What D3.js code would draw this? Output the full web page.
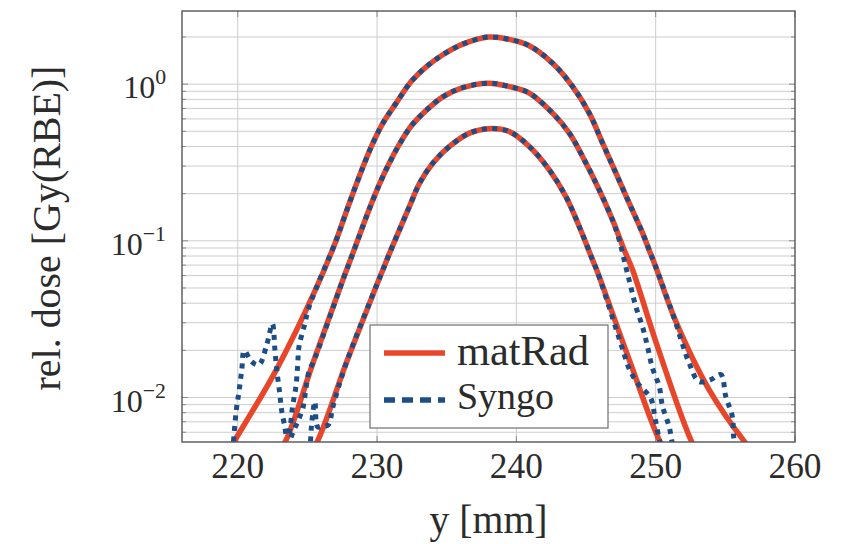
<!DOCTYPE html>
<html>
<head>
<meta charset="utf-8">
<script src="https://cdn.jsdelivr.net/npm/d3@7"></script>
<style>
  html, body { margin: 0; padding: 0; background: #ffffff; }
  svg { display: block; }
</style>
</head>
<body>
<svg id="chart" width="843" height="544" font-family="'Liberation Serif', 'DejaVu Serif', 'Noto Serif', serif"></svg>
<script>
// ---------------- data ----------------
const xTicks = [220, 230, 240, 250, 260];
const yTickExps = [-2, -1, 0];
const xLabel = "y [mm]";
const yLabel = "rel. dose [Gy(RBE)]";
const seriesNames = ["matRad", "Syngo"];

// matRad – high / mid / low profile
const matRadHighX = [219.3, 219.66, 222.77, 225.64, 227.07, 227.67, 228.27, 229.0, 229.7, 230.42, 231.37, 232.45, 233.53, 234.72, 236.15, 238.0, 239.5, 240.93, 242.6, 244.04, 245.23, 246.19, 247.15, 248.1, 249.06, 249.53, 250.0, 251.4, 253.84, 256.47, 257.0];
const matRadHighY = [0.0045, 0.0051, 0.0150, 0.050, 0.101, 0.143, 0.201, 0.298, 0.42, 0.564, 0.757, 1.04, 1.29, 1.54, 1.80, 2.0, 1.93, 1.76, 1.36, 0.965, 0.653, 0.42, 0.27, 0.174, 0.112, 0.0875, 0.0684, 0.0313, 0.0112, 0.0051, 0.0045];

const matRadMidX = [222.9, 223.49, 225.4, 227.55, 228.27, 228.98, 229.46, 230.18, 230.9, 231.61, 232.45, 233.53, 234.72, 236.15, 238.0, 239.5, 240.93, 242.6, 243.8, 245.0, 245.95, 246.9, 247.74, 248.34, 250.13, 252.64, 253.2];
const matRadMidY = [0.0045, 0.0054, 0.0166, 0.0564, 0.0835, 0.124, 0.161, 0.231, 0.316, 0.414, 0.540, 0.68, 0.83, 0.95, 1.015, 0.965, 0.877, 0.653, 0.487, 0.313, 0.211, 0.136, 0.0875, 0.0653, 0.0211, 0.0051, 0.0043];

const matRadLowX = [225.1, 225.64, 227.79, 229.94, 230.42, 230.9, 231.61, 232.33, 233.05, 234.0, 235.2, 236.63, 238.0, 239.5, 240.93, 242.36, 243.55, 244.52, 245.47, 245.83, 248.1, 250.37, 250.9];
const matRadLowY = [0.0045, 0.0051, 0.0166, 0.0513, 0.0653, 0.0835, 0.1175, 0.166, 0.233, 0.313, 0.40, 0.487, 0.52, 0.498, 0.40, 0.284, 0.192, 0.123, 0.0756, 0.063, 0.0174, 0.0051, 0.0044];

// Syngo – high / mid / low profile
const syngoHighX = [219.6, 219.69, 219.88, 220.09, 220.29, 220.47, 221.0, 221.53, 222.08, 222.49, 222.67, 222.8, 223.0, 223.15, 223.37, 223.51, 223.7, 223.94, 224.18, 224.3, 224.4, 224.8, 225.04, 225.64, 227.07, 227.67, 228.27, 229.0, 229.7, 230.42, 231.37, 232.45, 233.53, 234.72, 236.15, 238.0, 239.5, 240.93, 242.6, 244.04, 245.23, 246.19, 247.15, 248.1, 249.06, 249.53, 250.0, 251.45, 251.9, 252.4, 253.1, 253.96, 254.68, 255.03, 255.5, 255.6, 255.8];
const syngoHighY = [0.0045, 0.0052, 0.0081, 0.0109, 0.0150, 0.0199, 0.0169, 0.0162, 0.0217, 0.0295, 0.0201, 0.0150, 0.0109, 0.0083, 0.0066, 0.0057, 0.0061, 0.0088, 0.0118, 0.0159, 0.0212, 0.0292, 0.036, 0.050, 0.101, 0.143, 0.201, 0.298, 0.42, 0.564, 0.757, 1.04, 1.29, 1.54, 1.80, 2.0, 1.93, 1.76, 1.36, 0.965, 0.653, 0.42, 0.27, 0.174, 0.112, 0.0875, 0.0684, 0.0298, 0.0222, 0.0166, 0.01265, 0.0130, 0.0140, 0.01015, 0.00757, 0.0056, 0.0045];

const syngoMidX = [223.6, 223.9, 224.3, 224.68, 224.9, 225.14, 225.4, 227.55, 228.27, 228.98, 229.46, 230.18, 230.9, 231.61, 232.45, 233.53, 234.72, 236.15, 238.0, 239.5, 240.93, 242.6, 243.8, 245.0, 245.95, 246.9, 247.4, 247.85, 248.21, 248.57, 249.05, 249.41, 249.77, 250.25, 250.49, 250.97, 251.18, 251.4];
const syngoMidY = [0.0048, 0.0058, 0.0070, 0.0086, 0.0115, 0.0150, 0.0166, 0.0564, 0.0835, 0.124, 0.161, 0.231, 0.316, 0.414, 0.540, 0.68, 0.83, 0.95, 1.015, 0.965, 0.877, 0.653, 0.487, 0.313, 0.211, 0.136, 0.100, 0.0686, 0.0511, 0.0381, 0.0284, 0.0212, 0.0154, 0.0118, 0.0088, 0.0065, 0.0052, 0.0045];

const syngoLowX = [225.2, 225.3, 225.54, 225.73, 226.02, 226.5, 226.84, 227.79, 229.94, 230.42, 230.9, 231.61, 232.33, 233.05, 234.0, 235.2, 236.63, 238.0, 239.5, 240.93, 242.36, 243.55, 244.52, 245.47, 245.83, 247.6, 248.08, 248.68, 249.64, 249.95, 250.24, 250.5];
const syngoLowY = [0.0045, 0.0067, 0.0094, 0.0065, 0.0065, 0.0067, 0.0088, 0.0166, 0.0513, 0.0653, 0.0835, 0.1175, 0.166, 0.233, 0.313, 0.40, 0.487, 0.52, 0.498, 0.40, 0.284, 0.192, 0.123, 0.0756, 0.063, 0.0207, 0.0154, 0.0124, 0.0099, 0.0074, 0.0055, 0.0045];

// ---------------- chart ----------------
const svg = d3.select("#chart");
const L = 182, T = 11, R = 795, B = 442;
const x = d3.scaleLinear().domain([216, 260]).range([L, R]);
const y = d3.scaleLog().domain([0.0052, 2.93]).range([B, T]);

const redCol = "#e8462a";
const blueCol = "#1b4d87";
const textCol = "#2b2b2b";

// scale a text node's font size so its width matches a target width
function fit(sel, target) {
  const node = sel.node();
  const fs = parseFloat(sel.attr("font-size"));
  const w = node.getComputedTextLength();
  if (w > 0) sel.attr("font-size", (fs * target / w).toFixed(2));
  return sel;
}

svg.append("defs").append("clipPath").attr("id", "plotclip")
  .append("rect").attr("x", L).attr("y", T).attr("width", R - L).attr("height", B - T);

// grid
const grid = svg.append("g");
const yGridVals = [];
for (let k = -3; k <= 0; k++) {
  for (let m = 1; m <= 9; m++) {
    const v = m * Math.pow(10, k);
    if (v > y.domain()[0] && v < y.domain()[1]) yGridVals.push(v);
  }
}
grid.selectAll("line.hg").data(yGridVals).join("line")
  .attr("x1", L).attr("x2", R)
  .attr("y1", d => y(d)).attr("y2", d => y(d))
  .attr("stroke", "#cdcdcd").attr("stroke-width", 1);
grid.selectAll("line.vg").data(xTicks.filter(t => t < 260)).join("line")
  .attr("x1", d => x(d)).attr("x2", d => x(d))
  .attr("y1", T).attr("y2", B)
  .attr("stroke", "#cdcdcd").attr("stroke-width", 1);

// small tick marks inside the frame
const ticks = svg.append("g").attr("stroke", "#8a8a8a").attr("stroke-width", 1);
yGridVals.forEach(v => {
  const major = Math.abs(Math.log10(v) - Math.round(Math.log10(v))) < 1e-9;
  const len = major ? 6 : 4;
  ticks.append("line").attr("x1", L).attr("x2", L + len).attr("y1", y(v)).attr("y2", y(v));
  ticks.append("line").attr("x1", R - len).attr("x2", R).attr("y1", y(v)).attr("y2", y(v));
});
xTicks.forEach(t => {
  ticks.append("line").attr("x1", x(t)).attr("x2", x(t)).attr("y1", B).attr("y2", B - 6);
  ticks.append("line").attr("x1", x(t)).attr("x2", x(t)).attr("y1", T).attr("y2", T + 6);
});

// curves
const line = d3.line().x(d => x(d[0])).y(d => y(d[1])).curve(d3.curveCatmullRom.alpha(0.5));
const zip = (a, b) => a.map((v, i) => [v, b[i]]);
const plot = svg.append("g").attr("clip-path", "url(#plotclip)");

[[matRadHighX, matRadHighY], [matRadMidX, matRadMidY], [matRadLowX, matRadLowY]].forEach(([xs, ys]) => {
  plot.append("path").attr("d", line(zip(xs, ys)))
    .attr("fill", "none").attr("stroke", redCol).attr("stroke-width", 5.5);
});
[[syngoHighX, syngoHighY], [syngoMidX, syngoMidY], [syngoLowX, syngoLowY]].forEach(([xs, ys]) => {
  plot.append("path").attr("d", line(zip(xs, ys)))
    .attr("fill", "none").attr("stroke", blueCol).attr("stroke-width", 5)
    .attr("stroke-dasharray", "5,5.5");
});

// frame
svg.append("rect").attr("x", L).attr("y", T).attr("width", R - L).attr("height", B - T)
  .attr("fill", "none").attr("stroke", "#555555").attr("stroke-width", 1.4);

// x tick labels
svg.append("g").selectAll("text").data(xTicks).join("text")
  .attr("x", d => x(d)).attr("y", 478)
  .attr("text-anchor", "middle").attr("font-size", 35).attr("fill", textCol)
  .text(d => d)
  .each(function () { fit(d3.select(this), 53); });

// y tick labels
yTickExps.forEach(e => {
  const t = svg.append("text").attr("x", 166).attr("y", y(Math.pow(10, e)) + 14)
    .attr("text-anchor", "end").attr("font-size", 35).attr("fill", textCol);
  const base = t.append("tspan").text("10");
  const w = base.node().getComputedTextLength();
  const fs = 35 * 32 / (w || 32);
  t.attr("font-size", fs.toFixed(2));
  t.append("tspan").attr("dy", -14).attr("font-size", (fs * 0.68).toFixed(2))
    .text(e === 0 ? "0" : "\u2212" + Math.abs(e));
});

// axis labels
fit(svg.append("text").attr("x", (L + R) / 2).attr("y", 533)
  .attr("text-anchor", "middle").attr("font-size", 36).attr("fill", textCol)
  .text(xLabel), 118);
fit(svg.append("text").attr("transform", `translate(60,228) rotate(-90)`)
  .attr("text-anchor", "middle").attr("font-size", 36).attr("fill", textCol)
  .text(yLabel), 325);

// legend
const lg = svg.append("g");
lg.append("rect").attr("x", 370).attr("y", 325).attr("width", 238).attr("height", 103)
  .attr("fill", "#ffffff").attr("stroke", "#6e6e6e").attr("stroke-width", 1.2);
lg.append("line").attr("x1", 384).attr("x2", 445).attr("y1", 353).attr("y2", 353)
  .attr("stroke", redCol).attr("stroke-width", 5.5);
lg.append("line").attr("x1", 384).attr("x2", 445).attr("y1", 400).attr("y2", 400)
  .attr("stroke", blueCol).attr("stroke-width", 5.5).attr("stroke-dasharray", "11,7");
fit(lg.append("text").attr("x", 457).attr("y", 365).attr("font-size", 37).attr("fill", textCol)
  .text(seriesNames[0]), 132);
fit(lg.append("text").attr("x", 457).attr("y", 409).attr("font-size", 37).attr("fill", textCol)
  .text(seriesNames[1]), 97);
</script>
</body>
</html>
